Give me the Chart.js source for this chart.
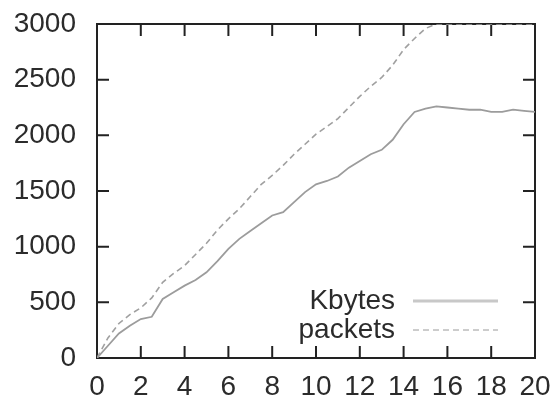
<!DOCTYPE html>
<html>
<head>
<meta charset="utf-8">
<script src="https://cdn.jsdelivr.net/npm/chart.js"></script>
<style>
  html, body { margin: 0; padding: 0; background: #fff; }
  #wrap { width: 554px; height: 399px; }
</style>
</head>
<body>
<div id="wrap"><canvas id="c"></canvas></div>
<script>
// time axis (x) and the two series
const times = [0, 0.5, 1, 1.5, 2, 2.5, 3, 3.5, 4, 4.5, 5, 5.5, 6, 6.5, 7, 7.5, 8, 8.5, 9, 9.5,
  10, 10.5, 11, 11.5, 12, 12.5, 13, 13.5, 14, 14.5, 15, 15.5, 16, 16.5, 17, 17.5, 18, 18.5, 19, 19.5, 20];
const kbytes = [0, 110, 220, 290, 350, 370, 530, 590, 650, 700, 770, 870, 980, 1070, 1140, 1210, 1280, 1310, 1400, 1490,
  1560, 1590, 1630, 1710, 1770, 1830, 1870, 1960, 2100, 2210, 2240, 2260, 2250, 2240, 2230, 2230, 2210, 2210, 2230, 2220, 2210];
const packets = [0, 180, 310, 390, 450, 540, 680, 760, 830, 930, 1030, 1150, 1250, 1340, 1450, 1560, 1640, 1730, 1830, 1920,
  2010, 2080, 2150, 2250, 2350, 2440, 2520, 2630, 2770, 2870, 2960, 3000, 3000, 3000, 3000, 3000, 3000, 3000, 3000, 3000, 3000];
const seriesNames = ['Kbytes', 'packets'];
const xTicks = [0, 2, 4, 6, 8, 10, 12, 14, 16, 18, 20];
const yTicks = [0, 500, 1000, 1500, 2000, 2500, 3000];

const FONT = { family: "'Liberation Sans', Arial, sans-serif", size: 28 };
const TEXT = '#2b2b2b';

function pts(ys) {
    return times.map((t, i) => ({ x: t, y: ys[i] }));
}

// frame with inward ticks on all four sides (gnuplot style)
const framePlugin = {
    id: 'frame',
    beforeDatasetsDraw(chart) {
        const { ctx, chartArea: a, scales } = chart;
        const len = 12;
        ctx.save();
        ctx.strokeStyle = '#222';
        ctx.lineWidth = 2;
        ctx.beginPath();
        xTicks.forEach(v => {
            const x = scales.x.getPixelForValue(v);
            ctx.moveTo(x, a.bottom); ctx.lineTo(x, a.bottom - len);
            ctx.moveTo(x, a.top); ctx.lineTo(x, a.top + len);
        });
        yTicks.forEach(v => {
            const y = scales.y.getPixelForValue(v);
            ctx.moveTo(a.left, y); ctx.lineTo(a.left + len, y);
            ctx.moveTo(a.right, y); ctx.lineTo(a.right - len, y);
        });
        ctx.stroke();
        ctx.strokeRect(a.left, a.top, a.right - a.left, a.bottom - a.top);
        ctx.restore();
    }
};

// tick labels and legend, placed from the scales
const textPlugin = {
    id: 'texts',
    afterDraw(chart) {
        const { ctx, chartArea: a, scales } = chart;
        ctx.save();
        ctx.font = FONT.size + 'px ' + FONT.family;
        ctx.fillStyle = TEXT;
        ctx.textBaseline = 'middle';

        ctx.textAlign = 'right';
        yTicks.forEach(v => ctx.fillText(String(v), a.left - 21, scales.y.getPixelForValue(v)));
        ctx.textAlign = 'center';
        xTicks.forEach(v => ctx.fillText(String(v), scales.x.getPixelForValue(v), a.bottom + 29));

        // legend inside the plot, bottom right
        const textRight = a.right - 140;
        const lineL = a.right - 122, lineR = a.right - 37;
        const rows = [a.bottom - 57, a.bottom - 28];
        ctx.textAlign = 'right';
        seriesNames.forEach((name, i) => ctx.fillText(name, textRight, rows[i]));
        ctx.strokeStyle = '#c8c8c8';
        ctx.lineWidth = 3;
        ctx.beginPath(); ctx.moveTo(lineL, rows[0]); ctx.lineTo(lineR, rows[0]); ctx.stroke();
        ctx.strokeStyle = '#9a9a9a';
        ctx.lineWidth = 1;
        ctx.setLineDash([6, 4]);
        ctx.beginPath(); ctx.moveTo(lineL, rows[1]); ctx.lineTo(lineR, rows[1]); ctx.stroke();
        ctx.restore();
    }
};

new Chart(document.getElementById('c'), {
    type: 'line',
    data: {
        datasets: [
            {
                label: seriesNames[0],
                data: pts(kbytes),
                borderColor: '#9c9c9c',
                borderWidth: 1.8,
                pointRadius: 0,
                tension: 0
            },
            {
                label: seriesNames[1],
                data: pts(packets),
                borderColor: '#a0a0a0',
                borderWidth: 1.6,
                borderDash: [6, 4],
                pointRadius: 0,
                tension: 0
            }
        ]
    },
    options: {
        responsive: true,
        maintainAspectRatio: false,
        animation: false,
        layout: { padding: { top: 24, right: 19, left: 0, bottom: 0 } },
        plugins: { legend: { display: false }, tooltip: { enabled: false } },
        scales: {
            x: {
                type: 'linear',
                min: 0, max: 20,
                afterFit: s => { s.height = 41; },
                grid: { display: false, drawTicks: false },
                border: { display: false },
                ticks: { display: false }
            },
            y: {
                min: 0, max: 3000,
                afterFit: s => { s.width = 97; },
                grid: { display: false, drawTicks: false },
                border: { display: false },
                ticks: { display: false }
            }
        }
    },
    plugins: [framePlugin, textPlugin]
});
</script>
</body>
</html>
